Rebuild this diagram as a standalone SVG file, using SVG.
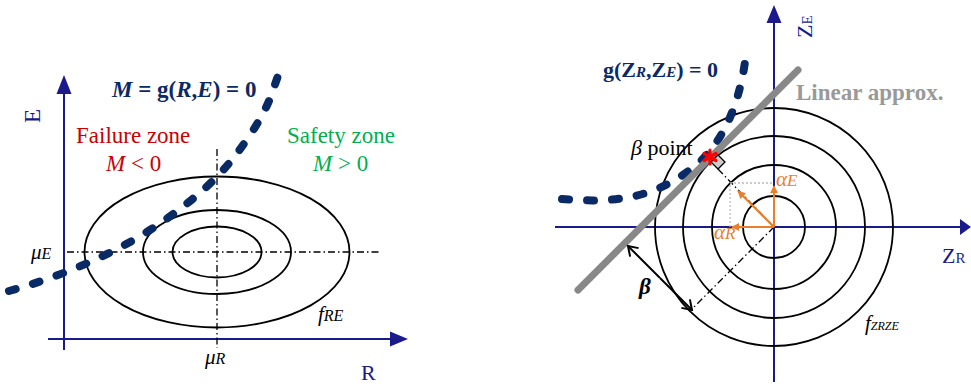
<svg xmlns="http://www.w3.org/2000/svg" width="971" height="388" viewBox="0 0 971 388" font-family="'Liberation Serif','Times New Roman',serif">
<style>
text{font-family:"Liberation Serif","Times New Roman",serif}
.axis{stroke:#1a1a8c;stroke-width:2;fill:none}
.ahead{fill:#1a1a8c;stroke:none}
.ell{fill:none;stroke:#000;stroke-width:1.8}
.dd{fill:none;stroke:#000;stroke-width:1.3;stroke-dasharray:7 3 1.5 3}
.limit{fill:none;stroke:#0a2a66;stroke-width:8;stroke-linecap:round;stroke-dasharray:7 18}
.navy{fill:#1a1a8c}
.dark{fill:#0a2a66;font-weight:bold}
.or{stroke:#ea7e2c;stroke-width:2;fill:none}
.orf{fill:#ea7e2c}
</style>
<defs>
<marker id="oa" viewBox="0 0 10 10" refX="9" refY="5" markerWidth="8" markerHeight="8" markerUnits="userSpaceOnUse" orient="auto"><path d="M0,0 L10,5 L0,10 z" fill="#ea7e2c"/></marker>
<marker id="chev" viewBox="0 0 14 14" refX="12" refY="7" markerWidth="14" markerHeight="14" markerUnits="userSpaceOnUse" orient="auto"><path d="M3,1 L12,7 L3,13" fill="none" stroke="#000" stroke-width="2"/></marker>
</defs>

<!-- LEFT DIAGRAM -->
<g id="left-axes">
<line class="axis" x1="64" y1="350" x2="64" y2="90"/>
<path class="ahead" d="M64,75 L56.5,94 L71.5,94 z"/>
<line class="axis" x1="48" y1="339" x2="393" y2="339"/>
<path class="ahead" d="M408,339 L390,331.5 L390,346.5 z"/>
<text class="navy" font-size="23" transform="translate(40,123) rotate(-90)">E</text>
<text class="navy" font-size="22" x="361" y="380">R</text>
</g>
<g id="left-guides">
<line class="dd" x1="217" y1="149" x2="217" y2="348"/>
<line class="dd" x1="67" y1="252" x2="380" y2="252"/>
<text font-size="21" x="31" y="259" font-style="italic">μ<tspan font-size="16">E</tspan></text>
<text font-size="21" x="205" y="364" font-style="italic">μ<tspan font-size="16">R</tspan></text>
</g>
<g id="left-contours">
<ellipse class="ell" cx="217" cy="252" rx="132.5" ry="75.5"/>
<ellipse class="ell" cx="217" cy="252" rx="74" ry="42"/>
<ellipse class="ell" cx="217" cy="252" rx="44.5" ry="25.5"/>
<text font-size="21" x="318" y="321" font-style="italic">f<tspan font-size="16">RE</tspan></text>
</g>
<g id="left-limit">
<path class="limit" d="M9,291 C60,277 120,252 165,220 S230,165 250,135 S272,92 278,76"/>
<text class="dark" font-size="23" x="112" y="97"><tspan font-style="italic">M</tspan> = g(<tspan font-style="italic">R</tspan>,<tspan font-style="italic">E</tspan>) = 0</text>
</g>
<g id="failure-zone">
<text font-size="23" fill="#cc0000" x="76" y="143">Failure zone</text>
<text font-size="23" fill="#cc0000" x="106" y="171"><tspan font-style="italic">M</tspan> &lt; 0</text>
</g>
<g id="safety-zone">
<text font-size="23" fill="#00b050" x="287" y="143">Safety zone</text>
<text font-size="23" fill="#00b050" x="313" y="171"><tspan font-style="italic">M</tspan> &gt; 0</text>
</g>

<!-- RIGHT DIAGRAM -->
<g id="right-axes">
<line class="axis" x1="774" y1="382" x2="774" y2="20"/>
<path class="ahead" d="M774,5 L766.5,23 L781.5,23 z"/>
<line class="axis" x1="555" y1="227" x2="962" y2="227"/>
<path class="ahead" d="M971,227 L960,219 L960,235 z"/>
<text class="navy" font-size="22" transform="translate(812,38) rotate(-90)">Z<tspan font-size="15">E</tspan></text>
<text class="navy" font-size="22" x="942" y="263">Z<tspan font-size="15">R</tspan></text>
</g>
<g id="right-contours">
<circle class="ell" cx="774" cy="227" r="31"/>
<circle class="ell" cx="774" cy="227" r="62"/>
<circle class="ell" cx="774" cy="227" r="91"/>
<circle class="ell" cx="774" cy="227" r="119"/>
<text font-size="21" x="865" y="330" font-style="italic">f<tspan font-size="12">ZRZE</tspan></text>
</g>
<g id="right-limit">
<path class="limit" d="M562,199 C610,203 650,200 690,170 C720,148 738,110 745,62"/>
<text class="dark" font-size="22" x="603" y="77">g(Z<tspan font-style="italic" font-size="15">R</tspan>,Z<tspan font-style="italic" font-size="15">E</tspan>) = 0</text>
</g>
<g id="linear-approx">
<line x1="578" y1="290" x2="798" y2="70" stroke="#888" stroke-width="7" stroke-linecap="round"/>
<text font-size="23" font-weight="bold" fill="#999" x="796" y="100">Linear approx.</text>
</g>
<g id="connectors">
<line class="dd" x1="718" y1="169" x2="774" y2="227"/>
<line class="dd" x1="774" y1="227" x2="692" y2="309"/>
<path d="M730,227 L730,183 L774,183" fill="none" stroke="#bbb" stroke-width="1.3" stroke-dasharray="2 2"/>
<line class="or" x1="774" y1="227" x2="774" y2="186" marker-end="url(#oa)"/>
<line class="or" x1="774" y1="227" x2="732" y2="227" marker-end="url(#oa)"/>
<line class="or" x1="774" y1="227" x2="738" y2="191" marker-end="url(#oa)"/>
<line x1="660" y1="278" x2="628" y2="246" stroke="#000" stroke-width="2" marker-end="url(#chev)"/>
<line x1="660" y1="278" x2="692" y2="310" stroke="#000" stroke-width="2" marker-end="url(#chev)"/>
</g>
<g id="beta-point">
<path d="M711,162 L718,155 L725,162 L718,169 z" fill="#ccc" stroke="#000" stroke-width="1.3"/>
<g stroke="#ff0000" stroke-width="3.2" stroke-linecap="round">
<line x1="710" y1="150" x2="710" y2="164"/>
<line x1="704" y1="153.5" x2="716" y2="160.5"/>
<line x1="704" y1="160.5" x2="716" y2="153.5"/>
</g>
<text font-size="22" x="631" y="155"><tspan font-style="italic">β</tspan> point</text>
</g>
<g id="alpha-labels">
<text class="orf" font-size="21" font-style="italic" x="776" y="186">α<tspan font-size="17">E</tspan></text>
<text class="orf" font-size="21" font-style="italic" x="714" y="239">α<tspan font-size="17">R</tspan></text>
</g>
<g id="beta-label">
<text font-size="23" font-style="italic" font-weight="bold" x="639" y="294">β</text>
</g>
</svg>
